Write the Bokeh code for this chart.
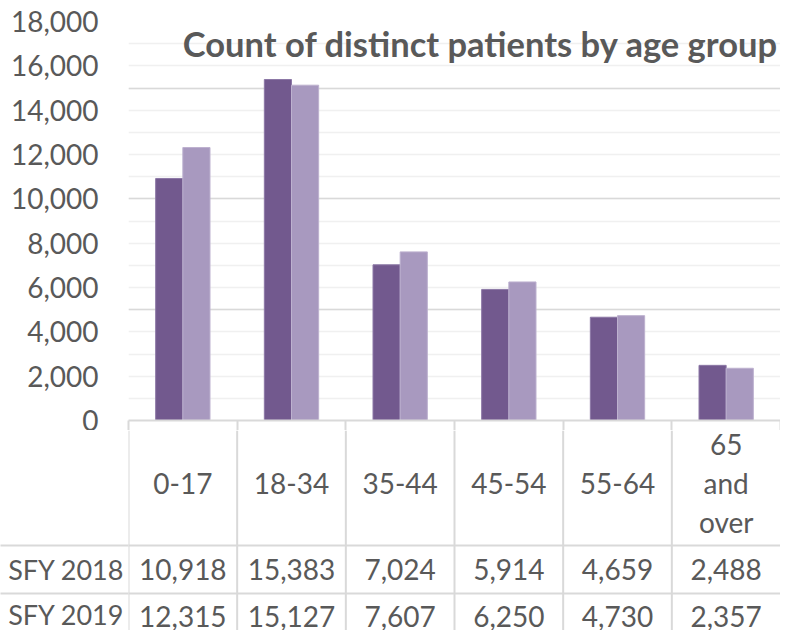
import numpy as np
from bokeh.plotting import figure
from bokeh.layouts import column
from bokeh.models import (Range1d, FixedTicker, NumeralTickFormatter, Label,
                          ColumnDataSource, LinearAxis)
from bokeh.core.properties import value
from bokeh.embed import file_html
from bokeh.resources import INLINE

# ---------------- data ----------------
categories = ["0-17", "18-34", "35-44", "45-54", "55-64", "65\nand\nover"]
series_names = ["SFY 2018", "SFY 2019"]
sfy2018 = [10918, 15383, 7024, 5914, 4659, 2488]
sfy2019 = [12315, 15127, 7607, 6250, 4730, 2357]
y_ticks = list(range(0, 18001, 2000))
y_minor_ticks = list(range(0, 18001, 400))
title_text = "Count of distinct patients by age group"

# ---------------- style ----------------
FONT = "Lato"
TXT = "#595959"
GRID = "#D9D9D9"
MINOR = "#F0F0F0"
DARK = "#72598E"
LIGHT = "#A899BF"
FS = "28px"

n = len(categories)
idx = np.arange(n)
bounds = list(range(0, n + 1))

W = 780
TOP_H = 430
BOT_H = 200
LEFT = 128

# ---------------- chart ----------------
p = figure(width=W, height=TOP_H, output_backend="svg", toolbar_location=None,
           x_range=Range1d(0, n), y_range=Range1d(0, 18000),
           x_axis_location=None, y_axis_location=None,
           min_border_left=LEFT, min_border_right=0, min_border_top=21,
           min_border_bottom=10)
p.outline_line_color = None
p.background_fill_color = "white"
p.border_fill_color = "white"

yax = LinearAxis(ticker=FixedTicker(ticks=y_ticks, minor_ticks=y_minor_ticks),
                 formatter=NumeralTickFormatter(format="0,0"))
yax.axis_line_color = None
yax.major_tick_line_color = None
yax.minor_tick_line_color = None
yax.major_tick_out = 0
yax.minor_tick_out = 0
yax.major_label_text_font = FONT
yax.major_label_text_font_size = FS
yax.major_label_text_color = TXT
yax.major_label_standoff = 30
p.add_layout(yax, "left")

xax = LinearAxis(ticker=FixedTicker(ticks=[], minor_ticks=bounds))
xax.axis_line_color = GRID
xax.axis_line_width = 2
xax.major_tick_line_color = None
xax.major_tick_out = 0
xax.major_label_text_font_size = "0px"
xax.major_label_standoff = 0
xax.minor_tick_out = 10
xax.minor_tick_in = 0
xax.minor_tick_line_color = GRID
xax.minor_tick_line_width = 2
p.add_layout(xax, "below")

p.ygrid.grid_line_color = GRID
p.ygrid.grid_line_width = 1.5
p.ygrid.minor_grid_line_color = MINOR
p.ygrid.minor_grid_line_width = 1.5
p.xgrid.grid_line_color = None

src = ColumnDataSource(dict(x1=idx + 0.375, x2=idx + 0.625, a=sfy2018, b=sfy2019))
p.vbar(x="x1", top="a", width=0.25, bottom=0, source=src, fill_color=DARK,
       line_color="#8C78A6", line_width=1)
p.vbar(x="x2", top="b", width=0.25, bottom=0, source=src, fill_color=LIGHT,
       line_color="#BDB1CF", line_width=1)

p.add_layout(Label(x=0.5, y=17000, text=title_text, text_font=FONT,
                   text_font_style="bold", text_font_size="34.5px",
                   text_color=TXT, text_baseline="middle", text_align="left"))

# ---------------- data table ----------------
row_y = [139, 186]
row_lines = [115, 163]

t = figure(width=W, height=BOT_H, output_backend="svg", toolbar_location=None,
           x_range=Range1d(0, n), y_range=Range1d(BOT_H, 0),
           x_axis_location=None, y_axis_location=None,
           min_border_left=LEFT, min_border_right=0, min_border_top=0,
           min_border_bottom=0)
t.outline_line_color = None
t.grid.visible = False
t.background_fill_color = "white"
t.border_fill_color = "white"

tax = LinearAxis(ticker=FixedTicker(ticks=row_y, minor_ticks=row_lines),
                 major_label_overrides={yy: nm for yy, nm in zip(row_y, series_names)})
tax.axis_line_color = None
tax.major_tick_line_color = None
tax.major_tick_out = 0
tax.minor_tick_out = LEFT
tax.minor_tick_in = 0
tax.minor_tick_line_color = GRID
tax.minor_tick_line_width = 2
tax.major_label_text_font = FONT
tax.major_label_text_font_size = "27px"
tax.major_label_text_color = TXT
tax.major_label_standoff = -124
t.add_layout(tax, "left")

t.segment(x0=bounds[:-1], x1=bounds[:-1], y0=[0] * n, y1=[BOT_H] * n,
          line_color=GRID, line_width=2)
t.segment(x0=[0] * 2, x1=[n] * 2, y0=row_lines, y1=row_lines,
          line_color=GRID, line_width=2)

t.text(x=idx + 0.5, y=[52.5] * n, text=categories, text_font=value(FONT),
       text_font_size=FS, text_color=TXT, text_align="center",
       text_baseline="middle", text_line_height=1.14)

for series, yy in zip([sfy2018, sfy2019], row_y):
    t.text(x=idx + 0.5, y=[yy] * n, text=[f"{v:,}" for v in series],
           text_font=value(FONT), text_font_size=FS, text_color=TXT,
           text_align="center", text_baseline="middle")

layout = column(p, t, spacing=0)
open("out.html", "w").write(file_html(layout, INLINE))
